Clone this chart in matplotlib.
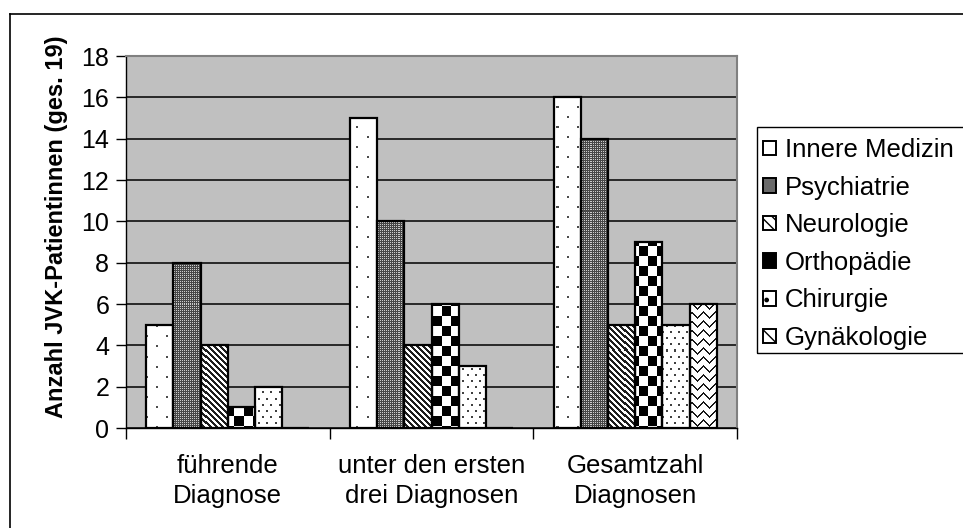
import numpy as np
import matplotlib
matplotlib.use("Agg")
import matplotlib.pyplot as plt
from matplotlib.patches import Patch, Rectangle
from matplotlib.lines import Line2D

plt.rcParams['font.family'] = ['Liberation Sans', 'DejaVu Sans']

categories = ["führende\nDiagnose", "unter den ersten\ndrei Diagnosen", "Gesamtzahl\nDiagnosen"]
series_names = ["Innere Medizin", "Psychiatrie", "Neurologie", "Orthopädie", "Chirurgie", "Gynäkologie"]
innere = [5, 15, 16]
psychiatrie = [8, 10, 14]
neurologie = [4, 4, 5]
orthopaedie = [1, 6, 9]
chirurgie = [2, 3, 5]
gynaekologie = [0, 0, 6]
values = [innere, psychiatrie, neurologie, orthopaedie, chirurgie, gynaekologie]
y_ticks = list(range(0, 19, 2))
y_label = "Anzahl JVK-Patientinnen (ges. 19)"

W, H = 963, 528
fig = plt.figure(figsize=(W / 100, H / 100), dpi=100)
L, R, T, B = 126, 737, 56, 428
ax = fig.add_axes([L / W, 1 - B / H, (R - L) / W, (B - T) / H])
ax.set_facecolor('#c0c0c0')
ax.set_xlim(-0.5, 2.5)
ax.set_ylim(0, 18)

# pattern textures (pixel grid of the axes)
pw, ph = R - L, B - T
yy, xx = np.mgrid[0:ph, 0:pw]

def tex_innere():
    a = np.ones((ph, pw))
    m = ((yy % 10) < 2) & (((xx + 10 * ((yy // 10) % 2)) % 20) < 2)
    a[m] = 0.3
    return a

def tex_psych():
    a = np.full((ph, pw), 0.28)
    m = ((xx % 2) == 0) & ((yy % 2) == 0)
    a[m] = 0.8
    return a

def tex_neuro():
    a = np.ones((ph, pw))
    a[((xx - yy) % 6) < 3] = 0.12
    return a

def tex_ortho():
    a = np.ones((ph, pw))
    a[((xx // 9) + (yy // 10)) % 2 == 0] = 0.0
    return a

def tex_chir():
    a = np.ones((ph, pw))
    m = ((yy % 6) < 2) & (((xx + 4 * ((yy // 6) % 2)) % 8) < 2)
    a[m] = 0.25
    return a

def tex_gyn():
    a = np.ones((ph, pw))
    tri = np.abs((xx % 12) - 6)
    a[((yy + tri) % 9) < 2] = 0.1
    return a

textures = [tex_innere(), tex_psych(), tex_neuro(), tex_ortho(), tex_chir(), tex_gyn()]

x = np.arange(len(categories))
bw = 0.1335
for i, (name, vals) in enumerate(zip(series_names, values)):
    bars = ax.bar(x + (i - 2.5) * bw, vals, width=bw, facecolor='none',
                  edgecolor='black', linewidth=1.6, zorder=3)
    for b, v in zip(bars, vals):
        if v <= 0:
            continue
        im = ax.imshow(textures[i], cmap='gray', vmin=0, vmax=1,
                       extent=(-0.5, 2.5, 0, 18), origin='upper',
                       aspect='auto', interpolation='nearest', zorder=2.5)
        im.set_clip_path(b)
ax.set_xlim(-0.5, 2.5)
ax.set_ylim(0, 18)

ax.set_yticks(y_ticks)
ax.yaxis.grid(True, color='black', linewidth=1.1, zorder=1)
ax.set_axisbelow(True)
ax.tick_params(axis='y', direction='out', length=7, width=1, labelsize=18, pad=5)
ax.set_xticks(x)
ax.set_xticklabels(categories, fontsize=18.5, linespacing=1.3)
ax.tick_params(axis='x', which='major', length=0, pad=19)
ax.set_xticks([-0.5, 0.5, 1.5, 2.5], minor=True)
ax.tick_params(axis='x', which='minor', direction='out', length=8, width=1)

for s in ['top', 'right']:
    ax.spines[s].set_color('#808080')
    ax.spines[s].set_linewidth(1.5)
for s in ['left', 'bottom']:
    ax.spines[s].set_color('black')
    ax.spines[s].set_linewidth(1.0)

fig.text(57 / W, 1 - 227 / H, y_label, rotation=90, ha='center', va='center',
         fontsize=17, fontweight='bold')

# legend
handles = [
    Patch(facecolor='white', edgecolor='black', linewidth=1.4),
    Patch(facecolor='#6a6a6a', edgecolor='black', linewidth=1.4),
    Patch(facecolor='white', edgecolor='black', hatch='\\\\\\', linewidth=1.4),
    Patch(facecolor='black', edgecolor='black', linewidth=1.4),
    Patch(facecolor='white', edgecolor='black', hatch='.', linewidth=1.4),
    Patch(facecolor='white', edgecolor='black', hatch='\\\\', linewidth=1.4),
]
leg = fig.legend(handles, series_names, loc='upper left',
                 bbox_to_anchor=(763 / W, 1 - 138 / H), frameon=False,
                 fontsize=18.5, handlelength=0.5, handleheight=0.5,
                 handletextpad=0.35, labelspacing=0.53, borderaxespad=0,
                 borderpad=0)
fig.patches.append(Rectangle((757 / W, 1 - 353 / H), 0.3, 226 / H,
                             transform=fig.transFigure, fill=False,
                             edgecolor='black', linewidth=1.0))
# outer frame
fig.lines.append(Line2D([9.5 / W, 9.5 / W], [1 - 13.5 / H, 0], transform=fig.transFigure,
                        color='black', linewidth=1.2))
fig.lines.append(Line2D([9.5 / W, 1], [1 - 13.5 / H, 1 - 13.5 / H], transform=fig.transFigure,
                        color='black', linewidth=1.2))

fig.savefig('out.png', dpi=100)
